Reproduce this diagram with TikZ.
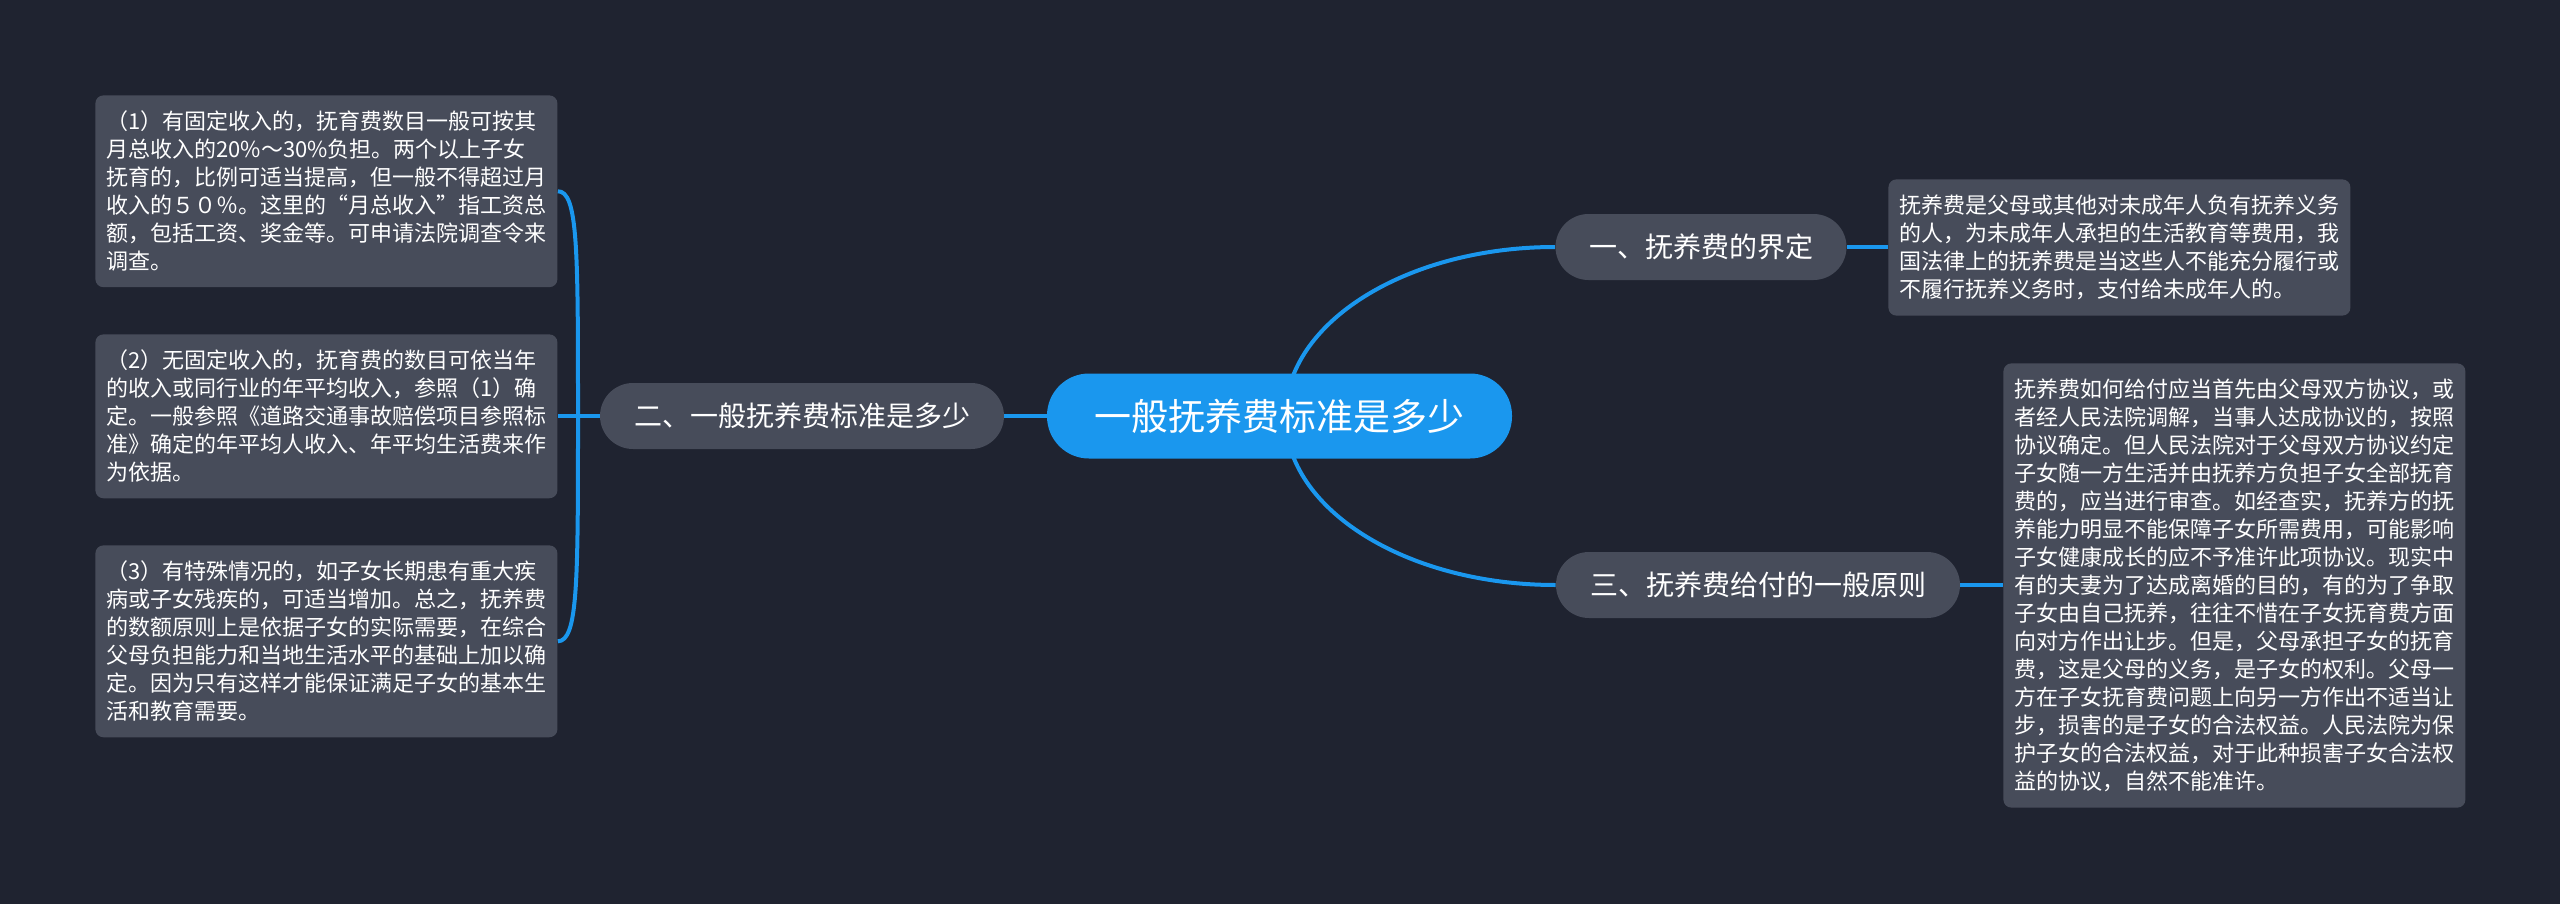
\documentclass[tikz,border=0pt]{standalone}
\usepackage{fontspec}
\setmainfont{Noto Sans CJK SC}
\definecolor{bgc}{HTML}{1F2330}
\definecolor{boxc}{HTML}{474C5A}
\definecolor{bluec}{HTML}{1A97EE}
\pgfdeclarelayer{bglayer}
\pgfdeclarelayer{edgelayer}
\pgfsetlayers{bglayer,edgelayer,main}
\begin{document}
\begin{tikzpicture}[x=0.5pt,y=-0.5pt,
  textbox/.style={fill=boxc, rounded corners=4pt, text=white, align=left,
    text width=220pt, inner xsep=5.5pt, inner ysep=7.8pt, anchor=north west,
    font=\fontsize{11pt}{14pt}\selectfont},
  topic/.style={fill=boxc, rounded corners=16.5pt, minimum height=33pt,
    inner xsep=0pt, text=white, font=\fontsize{14pt}{16pt}\selectfont},
  rootnode/.style={fill=bluec, rounded corners=21pt, minimum height=42.5pt,
    minimum width=232.5pt, text=white, font=\fontsize{18.5pt}{20pt}\selectfont},
  link/.style={draw=bluec, line width=2pt}]
\useasboundingbox (0,0) rectangle (2560,904);
\begin{pgfonlayer}{bglayer}
\fill[bgc] (0,0) rectangle (2560,904);
\end{pgfonlayer}

\node[rootnode] (c) at (1279.5,416) {一般抚养费标准是多少};
\node[topic, minimum width=145.5pt] (n1) at (1701,247) {一、抚养费的界定};
\node[topic, minimum width=202pt] (n2) at (802,416) {二、一般抚养费标准是多少};
\node[topic, minimum width=202pt] (n3) at (1758,585) {三、抚养费给付的一般原则};

\node[textbox] (r1) at (1888,179) {抚养费是父母或其他对未成年人负有抚养义务\\
的人，为未成年人承担的生活教育等费用，我\\
国法律上的抚养费是当这些人不能充分履行或\\
不履行抚养义务时，支付给未成年人的。};

\node[textbox] (r2) at (2003,363) {抚养费如何给付应当首先由父母双方协议，或\\
者经人民法院调解，当事人达成协议的，按照\\
协议确定。但人民法院对于父母双方协议约定\\
子女随一方生活并由抚养方负担子女全部抚育\\
费的，应当进行审查。如经查实，抚养方的抚\\
养能力明显不能保障子女所需费用，可能影响\\
子女健康成长的应不予准许此项协议。现实中\\
有的夫妻为了达成离婚的目的，有的为了争取\\
子女由自己抚养，往往不惜在子女抚育费方面\\
向对方作出让步。但是，父母承担子女的抚育\\
费，这是父母的义务，是子女的权利。父母一\\
方在子女抚育费问题上向另一方作出不适当让\\
步，损害的是子女的合法权益。人民法院为保\\
护子女的合法权益，对于此种损害子女合法权\\
益的协议，自然不能准许。};

\node[textbox] (l1) at (95,95) {（1）有固定收入的，抚育费数目一般可按其\\
月总收入的20\%～30\%负担。两个以上子女\\
抚育的，比例可适当提高，但一般不得超过月\\
收入的５０％。这里的“月总收入”指工资总\\
额，包括工资、奖金等。可申请法院调查令来\\
调查。};

\node[textbox] (l2) at (95,334) {（2）无固定收入的，抚育费的数目可依当年\\
的收入或同行业的年平均收入，参照（1）确\\
定。一般参照《道路交通事故赔偿项目参照标\\
准》确定的年平均人收入、年平均生活费来作\\
为依据。};

\node[textbox] (l3) at (95,545) {（3）有特殊情况的，如子女长期患有重大疾\\
病或子女残疾的，可适当增加。总之，抚养费\\
的数额原则上是依据子女的实际需要，在综合\\
父母负担能力和当地生活水平的基础上加以确\\
定。因为只有这样才能保证满足子女的基本生\\
活和教育需要。};

\coordinate (j) at (578,416);

\begin{pgfonlayer}{edgelayer}
\draw[link] ([xshift=3pt]c.center) .. controls (1285,323) and (1406,247) .. (n1.west);
\draw[link] ([xshift=3pt]c.center) .. controls (1285,509) and (1406,585) .. (n3.west);
\draw[link] (c.center) -- (n2.center);
\draw[link] (n1.east) -- (n1.east -| r1.west);
\draw[link] (n3.east) -- (n3.east -| r2.west);
\draw[link] (n2.center) -- (n2.center -| l2.east);
\draw[link] (j) .. controls (578,250) and (578,191) .. (l1.east);
\draw[link] (j) .. controls (578,582) and (578,641) .. (l3.east);
\end{pgfonlayer}
\end{tikzpicture}
\end{document}
